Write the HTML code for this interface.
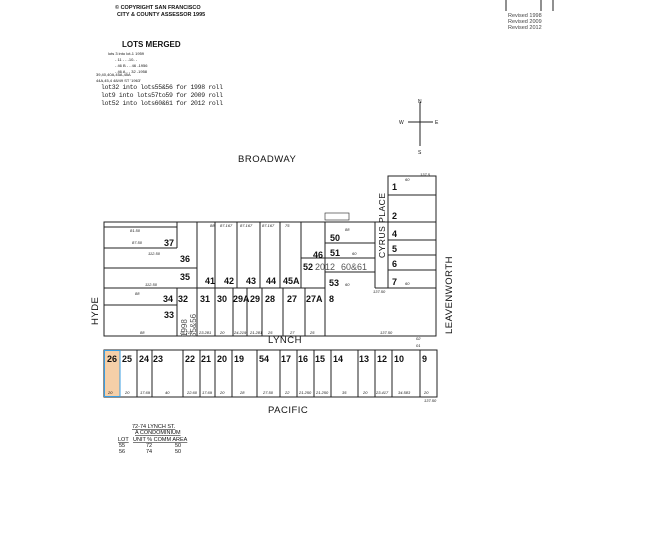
<!DOCTYPE html>
<html><head><meta charset="utf-8"><style>
html,body{margin:0;padding:0;background:#fff;width:650px;height:557px;overflow:hidden}
svg{display:block}
text{font-family:"Liberation Sans",sans-serif;fill:#111}
.n{font-size:9px;font-weight:bold}
.s{font-size:4px;font-style:italic;fill:#333}
.m{font-family:"Liberation Mono",monospace;font-size:6.5px;fill:#222}
.st{font-size:9.5px;letter-spacing:0.5px}
</style></head><body>
<svg width="650" height="557" viewBox="0 0 650 557" xmlns="http://www.w3.org/2000/svg">
<g stroke="#222" stroke-width="1" fill="none">
<!-- revised lines -->
<line x1="506" y1="0" x2="506" y2="11"/><line x1="541" y1="0" x2="541" y2="11"/><line x1="553" y1="0" x2="553" y2="11"/>
<!-- compass -->
<line x1="420" y1="102" x2="420" y2="146"/><line x1="408" y1="122" x2="433" y2="122"/>
<!-- top block -->
<rect x="104" y="222" width="332" height="114"/>
<line x1="104" y1="227" x2="177" y2="227"/>
<line x1="104" y1="248" x2="177" y2="248"/>
<line x1="177" y1="222" x2="177" y2="248"/>
<line x1="104" y1="268" x2="197" y2="268"/>
<line x1="197" y1="222" x2="197" y2="288"/>
<line x1="104" y1="288" x2="325" y2="288"/>
<line x1="215" y1="222" x2="215" y2="336"/>
<line x1="237" y1="222" x2="237" y2="288"/>
<line x1="260" y1="222" x2="260" y2="288"/>
<line x1="280" y1="222" x2="280" y2="288"/>
<line x1="301" y1="222" x2="301" y2="288"/>
<line x1="325" y1="222" x2="325" y2="336"/>
<line x1="325" y1="243" x2="375" y2="243"/>
<line x1="301" y1="258" x2="375" y2="258"/>
<line x1="325" y1="272" x2="375" y2="272"/>
<line x1="375" y1="222" x2="375" y2="288"/>
<line x1="375" y1="288" x2="436" y2="288"/>
<line x1="325" y1="281" x2="436" y2="281" stroke="none"/>
<line x1="104" y1="305" x2="177" y2="305"/>
<line x1="177" y1="288" x2="177" y2="336"/>
<line x1="197" y1="288" x2="197" y2="336"/>
<line x1="233" y1="288" x2="233" y2="336"/>
<line x1="247" y1="288" x2="247" y2="336"/>
<line x1="262" y1="288" x2="262" y2="336"/>
<line x1="283" y1="288" x2="283" y2="336"/>
<line x1="305" y1="288" x2="305" y2="336"/>
<!-- right block lots 1-7 -->
<rect x="388" y="176" width="48" height="112"/>
<line x1="388" y1="195" x2="436" y2="195"/>
<line x1="388" y1="222" x2="436" y2="222"/>
<line x1="388" y1="240" x2="436" y2="240"/>
<line x1="388" y1="255" x2="436" y2="255"/>
<line x1="388" y1="270" x2="436" y2="270"/>
<line x1="375" y1="222" x2="388" y2="222" stroke="none"/>
<!-- small lot box -->
<rect x="325" y="213" width="24" height="7" stroke-width="0.6"/>
<!-- lower block -->
<rect x="104" y="350" width="333" height="47"/>
</g>
<rect x="104.5" y="350.5" width="15.5" height="46" fill="#f5cfa8" stroke="#3a9de0" stroke-width="1"/>
<g stroke="#222" stroke-width="1">
<line x1="137" y1="350" x2="137" y2="397"/><line x1="152" y1="350" x2="152" y2="397"/>
<line x1="183" y1="350" x2="183" y2="397"/><line x1="200" y1="350" x2="200" y2="397"/>
<line x1="215" y1="350" x2="215" y2="397"/><line x1="232" y1="350" x2="232" y2="397"/>
<line x1="257" y1="350" x2="257" y2="397"/><line x1="280" y1="350" x2="280" y2="397"/>
<line x1="297" y1="350" x2="297" y2="397"/><line x1="314" y1="350" x2="314" y2="397"/>
<line x1="331" y1="350" x2="331" y2="397"/><line x1="358" y1="350" x2="358" y2="397"/>
<line x1="375" y1="350" x2="375" y2="397"/><line x1="392" y1="350" x2="392" y2="397"/>
<line x1="420" y1="350" x2="420" y2="397"/>
</g>

<!-- header texts -->
<text x="115" y="9" style="font-size:5.5px;font-weight:bold">© COPYRIGHT SAN FRANCISCO</text>
<text x="117" y="16" style="font-size:5.5px;font-weight:bold">CITY &amp; COUNTY ASSESSOR 1995</text>
<text x="122" y="47" style="font-size:8px;font-weight:bold">LOTS MERGED</text>
<text x="108" y="55" style="font-size:4px">lots    3          into lot-1  1959</text>
<text x="115" y="61" style="font-size:4px">-     11          -   -  -10- -</text>
<text x="115" y="67" style="font-size:4px">-    46 B         -   -  46 -1956</text>
<text x="115" y="73" style="font-size:4px">-    46 A         -   -  32 -1958</text>
<text x="96" y="76" style="font-size:4px">39,40,40A,45A,45A</text>
<text x="96" y="82" style="font-size:4px">44A,45,4 48/49          ST '1963'</text>
<text class="m" x="101" y="89" textLength="122">lot32 into lots55&amp;56 for 1998 roll</text>
<text class="m" x="101" y="97" textLength="122">lot9 into lots57to59 for 2009 roll</text>
<text class="m" x="101" y="105" textLength="122">lot52 into lots60&amp;61 for 2012 roll</text>
<text x="508" y="17" style="font-size:5.5px;fill:#444">Revised 1998</text>
<text x="508" y="23" style="font-size:5.5px;fill:#444">Revised 2009</text>
<text x="508" y="29" style="font-size:5.5px;fill:#444">Revised 2012</text>
<text x="418" y="103" style="font-size:5px">N</text>
<text x="399" y="124" style="font-size:5px">W</text>
<text x="435" y="124" style="font-size:5px">E</text>
<text x="418" y="154" style="font-size:5px">S</text>

<!-- street names -->
<text class="st" x="238" y="162">BROADWAY</text>
<text class="st" x="268" y="343">LYNCH</text>
<text class="st" x="268" y="413">PACIFIC</text>
<text class="st" transform="translate(98,325) rotate(-90)">HYDE</text>
<text class="st" transform="translate(452,334) rotate(-90)">LEAVENWORTH</text>
<text class="st" style="font-size:8.5px" transform="translate(385,258) rotate(-90)">CYRUS PLACE</text>

<!-- lot numbers top block -->
<g class="n">
<text x="164" y="246">37</text><text x="180" y="262">36</text><text x="180" y="280">35</text>
<text x="205" y="284">41</text><text x="224" y="284">42</text><text x="246" y="284">43</text><text x="266" y="284">44</text><text x="283" y="284">45A</text>
<text x="330" y="241">50</text><text x="330" y="256">51</text><text x="313" y="258">46</text><text x="303" y="270">52</text><text x="329" y="286">53</text>
<text x="163" y="302">34</text><text x="178" y="302">32</text><text x="164" y="318">33</text>
<text x="200" y="302">31</text><text x="217" y="302">30</text><text x="233" y="302">29A</text><text x="250" y="302">29</text><text x="265" y="302">28</text><text x="287" y="302">27</text><text x="306" y="302">27A</text><text x="329" y="302">8</text>
<text x="392" y="190">1</text><text x="392" y="219">2</text><text x="392" y="237">4</text><text x="392" y="252">5</text><text x="392" y="267">6</text><text x="392" y="285">7</text>
<text x="107" y="362">26</text><text x="122" y="362">25</text><text x="139" y="362">24</text><text x="153" y="362">23</text><text x="185" y="362">22</text><text x="201" y="362">21</text><text x="217" y="362">20</text><text x="234" y="362">19</text><text x="259" y="362">54</text><text x="281" y="362">17</text><text x="298" y="362">16</text><text x="315" y="362">15</text><text x="333" y="362">14</text><text x="359" y="362">13</text><text x="377" y="362">12</text><text x="394" y="362">10</text><text x="422" y="362">9</text>
</g>
<text x="315" y="270" style="font-size:9px;fill:#555">2012</text>
<text x="341" y="270" style="font-size:9px;fill:#555">60&amp;61</text>
<text transform="translate(187,337) rotate(-90)" style="font-size:8px;fill:#555">1998</text>
<text transform="translate(196,337) rotate(-90)" style="font-size:8px;fill:#555">55&amp;56</text>

<!-- small dimensions -->
<g class="s">
<text x="130" y="232">81.50</text><text x="132" y="244">87.50</text><text x="148" y="255">112.50</text><text x="145" y="286">112.50</text>
<text x="135" y="295">88</text><text x="140" y="334">88</text><text x="180" y="334">25.719</text><text x="199" y="334">23.281</text>
<text x="220" y="334">20</text><text x="234" y="334">24.219</text><text x="250" y="334">21.281</text><text x="268" y="334">25</text><text x="290" y="334">27</text><text x="310" y="334">25</text><text x="380" y="334">137.50</text>
<text x="210" y="227">88</text><text x="220" y="227">87.167</text><text x="240" y="227">87.167</text><text x="262" y="227">87.167</text><text x="285" y="227">75</text><text x="345" y="231">88</text><text x="352" y="255">60</text><text x="345" y="286">60</text>
<text x="405" y="181">60</text><text x="405" y="285">60</text><text x="420" y="176">137.5</text><text x="373" y="293">137.50</text>
<text x="125" y="394">20</text><text x="140" y="394">17.69</text><text x="165" y="394">40</text><text x="187" y="394">22.60</text><text x="202" y="394">17.69</text><text x="220" y="394">20</text><text x="240" y="394">28</text><text x="263" y="394">27.50</text><text x="285" y="394">22</text><text x="299" y="394">21.250</text><text x="316" y="394">21.250</text><text x="342" y="394">35</text><text x="363" y="394">20</text><text x="376" y="394">23.417</text><text x="398" y="394">34.583</text><text x="424" y="394">20</text><text x="108" y="394">20</text>
<text x="424" y="402">137.50</text><text x="416" y="340">02</text><text x="416" y="347">01</text>
</g>

<!-- condo table -->
<g style="font-family:'Liberation Mono',monospace;font-size:5.5px">
<text x="132" y="428" text-decoration="underline">72-74 LYNCH ST.</text>
<text x="135" y="434" text-decoration="underline">A  CONDOMINIUM</text>
<text x="118" y="441" text-decoration="underline">LOT</text><text x="133" y="441" text-decoration="underline">UNIT % COMM AREA</text>
<text x="119" y="447">55</text><text x="146" y="447">72</text><text x="175" y="447">50</text>
<text x="119" y="453">56</text><text x="146" y="453">74</text><text x="175" y="453">50</text>
</g>
</svg>
</body></html>
